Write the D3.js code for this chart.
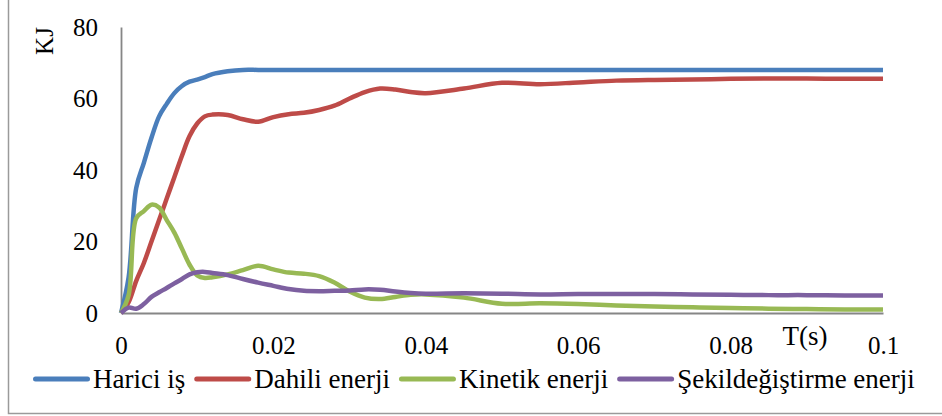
<!DOCTYPE html>
<html>
<head>
<meta charset="utf-8">
<script src="https://cdn.jsdelivr.net/npm/d3@7"></script>
<style>
  body { margin:0; background:#fff; }
</style>
</head>
<body>
<div id="chart"></div>
<script>
const times = [0,0.001,0.002,0.003,0.004,0.005,0.006,0.007,0.008,0.009,0.010,0.011,0.012,
  0.014,0.016,0.018,0.020,0.022,0.024,0.026,0.028,0.030,0.032,0.034,0.036,0.038,0.040,
  0.045,0.050,0.055,0.060,0.065,0.070,0.075,0.080,0.085,0.090,0.095,0.100];

const hariciIs = [0,10,35,42,49,55,58.5,61.5,63.5,64.7,65.3,66,66.8,
  67.6,68,68,68,68,68,68,68,68,68,68,68,68,68,
  68,68,68,68,68,68,68,68,68,68,68,68];

const dahiliEnerji = [0,3,9,14,20,26,32,38,44,49.5,53,55,55.5,
  55.4,54.2,53.5,54.8,55.6,56,56.8,58,60,61.8,62.8,62.5,61.8,61.5,
  62.8,64.4,64,64.5,65,65.2,65.3,65.5,65.6,65.6,65.5,65.5];

const kinetikEnerji = [0,5,26.5,28.5,30.3,29.5,26,22.5,18,13.5,10.5,9.8,10,
  10.8,12,13.2,12.2,11.3,11,10.3,8.5,6,4.3,3.9,4.5,5.1,5.2,
  4.3,2.6,2.7,2.5,2.1,1.8,1.6,1.4,1.2,1.1,1.0,1.0];

const sekilEnerji = [0,1.5,1.2,2.5,4.5,5.8,7,8.3,9.5,10.8,11.4,11.5,11.2,
  10.6,9.5,8.5,7.6,6.7,6.2,6.1,6.2,6.3,6.6,6.5,6,5.6,5.4,
  5.5,5.4,5.2,5.3,5.3,5.3,5.2,5.1,5.0,5.0,4.9,4.9];

const seriesNames = ["Harici iş","Dahili enerji","Kinetik enerji","Şekildeğiştirme enerji"];
const seriesValues = [hariciIs, dahiliEnerji, kinetikEnerji, sekilEnerji];
const colors = ["#4A7EBB","#BE4B48","#98B954","#7D60A0"];
const xTicks = [0,0.02,0.04,0.06,0.08,0.1];
const yTicks = [0,20,40,60,80];

const font = '"Liberation Serif"';

const width = 942, height = 416;
const margin = {top:27, right:59, bottom:103, left:121};

const svg = d3.select("#chart").append("svg")
  .attr("width", width).attr("height", height);

// outer frame
svg.append("path")
  .attr("d", `M8.5,0 V413.5 H942`)
  .attr("fill","none").attr("stroke","#9a9a9a").attr("stroke-width",1.5);

const x = d3.scaleLinear().domain([0,0.1]).range([margin.left, width - margin.right]);
const y = d3.scaleLinear().domain([0,80]).range([height - margin.bottom, margin.top]);

// axes
const xAxis = svg.append("g")
  .attr("transform", `translate(0,${y(0)})`)
  .call(d3.axisBottom(x).tickValues(xTicks).tickSize(0).tickPadding(23)
    .tickFormat(d => d === 0 ? "0" : d3.format("~g")(d)));
const yAxis = svg.append("g")
  .attr("transform", `translate(${x(0)},0)`)
  .call(d3.axisLeft(y).tickValues(yTicks).tickSize(0).tickPadding(23));
[xAxis, yAxis].forEach(g => {
  g.attr("font-family", null).attr("font-size", null);
  g.select(".domain").attr("stroke","#868686").attr("stroke-width",1.8);
  g.selectAll("text").style("font-family", font).style("font-size","25px").attr("fill","#000");
});

// lines
const line = d3.line()
  .x((d,i) => x(times[i]))
  .y(d => y(d))
  .curve(d3.curveCatmullRom.alpha(0.5));

svg.selectAll(".series")
  .data(seriesValues)
  .join("path")
  .attr("class","series")
  .attr("d", d => line(d))
  .attr("fill","none")
  .attr("stroke", (d,i) => colors[i])
  .attr("stroke-width",4.5)
  .attr("stroke-linejoin","round");

// axis titles
svg.append("text")
  .attr("transform","rotate(-90)")
  .attr("x",-41).attr("y",53)
  .attr("text-anchor","middle")
  .style("font-family", font)
  .style("font-size","25px")
  .text("KJ");

svg.append("text")
  .attr("x",805).attr("y",345)
  .attr("text-anchor","middle")
  .style("font-family", font)
  .style("font-size","27px")
  .text("T(s)");

// legend
const legend = svg.append("g").attr("transform","translate(0,379)");
let lx = 33;
seriesNames.forEach((name,i) => {
  legend.append("line")
    .attr("x1",lx+2.5).attr("x2",lx+54.5).attr("y1",0).attr("y2",0)
    .attr("stroke",colors[i]).attr("stroke-width",5).attr("stroke-linecap","round");
  const t = legend.append("text")
    .attr("x",lx+60).attr("y",9)
    .style("font-family", font)
    .style("font-size","27px")
    .text(name);
  lx += 60 + t.node().getComputedTextLength() + 9;
});
</script>
</body>
</html>
